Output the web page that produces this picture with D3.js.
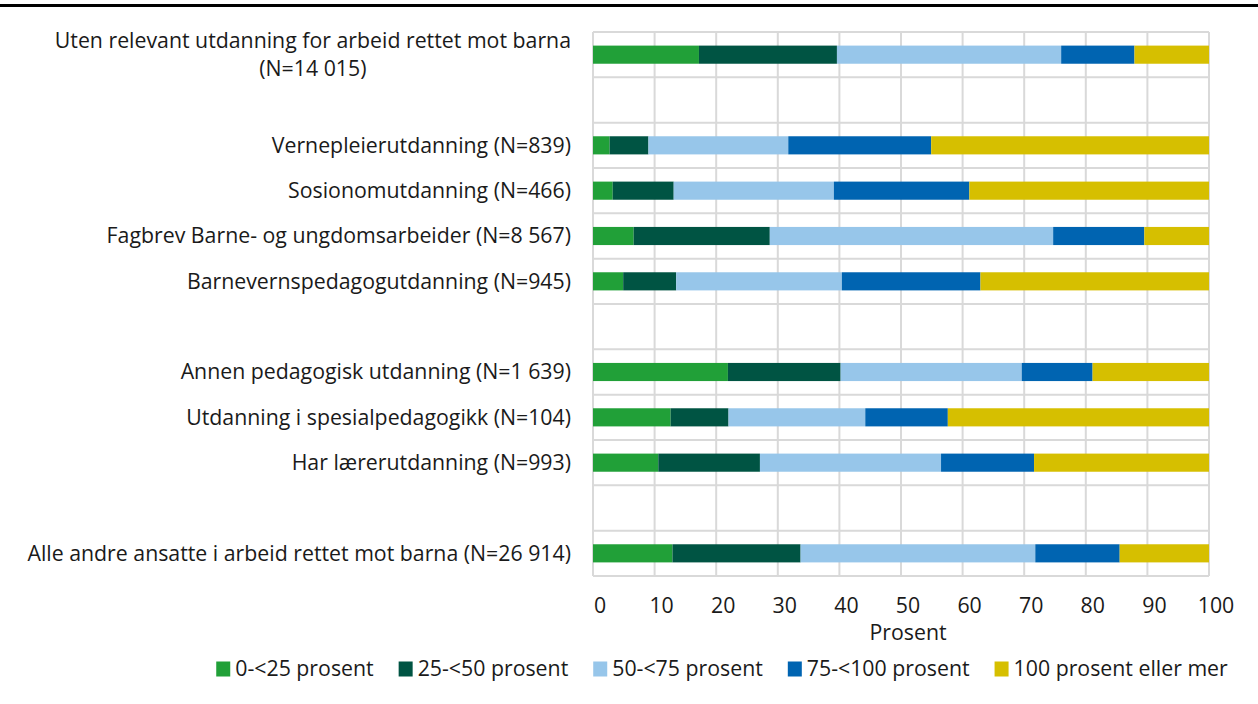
<!DOCTYPE html>
<html><head><meta charset="utf-8">
<script src="https://cdn.jsdelivr.net/npm/d3@7"></script>
<style>
html,body{margin:0;padding:0;background:#fff;}
text{font-family:"Open Sans",sans-serif;fill:#1a1a1a;}
</style></head>
<body>
<svg id="chart" width="1258" height="704"></svg>
<script>
const categories = [
  ["Uten relevant utdanning for arbeid rettet mot barna","(N=14 015)"],
  null,
  ["Vernepleierutdanning (N=839)"],
  ["Sosionomutdanning (N=466)"],
  ["Fagbrev Barne- og ungdomsarbeider (N=8 567)"],
  ["Barnevernspedagogutdanning (N=945)"],
  null,
  ["Annen pedagogisk utdanning (N=1 639)"],
  ["Utdanning i spesialpedagogikk (N=104)"],
  ["Har lærerutdanning (N=993)"],
  null,
  ["Alle andre ansatte i arbeid rettet mot barna (N=26 914)"]
];
const seriesNames = ["0-<25 prosent","25-<50 prosent","50-<75 prosent","75-<100 prosent","100 prosent eller mer"];
const seriesColors = ["#21a038","#005443","#97c6ea","#0064b1","#d6bf00"];
const s0 = [17.2, null, 2.7, 3.2, 6.6, 4.9, null, 21.9, 12.6, 10.6, null, 12.9];
const s1 = [22.4, null, 6.3, 9.9, 22.1, 8.6, null, 18.3, 9.4, 16.5, null, 20.8];
const s2 = [36.4, null, 22.7, 26.0, 46.0, 26.9, null, 29.4, 22.2, 29.4, null, 38.1];
const s3 = [11.9, null, 23.2, 22.0, 14.8, 22.5, null, 11.5, 13.4, 15.1, null, 13.7];
const s4 = [12.1, null, 45.1, 38.9, 10.5, 37.1, null, 18.9, 42.4, 28.4, null, 14.5];
const tickValues = [0,10,20,30,40,50,60,70,80,90,100];
const axisTitle = "Prosent";

(function(){
const svg = d3.select("#chart");
const W = 1258;
const FS = 21.3;
const pL = 593, pR = 1209, pT = 32, pB = 576;
const x = d3.scaleLinear().domain([0,100]).range([pL,pR]);
const idx = d3.range(categories.length);
const y = d3.scaleBand().domain(idx).range([pT,pB]).paddingInner(0.6).paddingOuter(0.3);
const step = y.step();

svg.append("rect").attr("x",0).attr("y",4).attr("width",W).attr("height",3).attr("fill","#000");

const grid = svg.append("g");
d3.range(categories.length+1).forEach(i=>{
  const yy = pT + i*step;
  grid.append("line").attr("x1",pL).attr("x2",pR).attr("y1",yy).attr("y2",yy)
    .attr("stroke","#d9d9d9").attr("stroke-width",2);
});
tickValues.forEach(v=>{
  grid.append("line").attr("x1",x(v)).attr("x2",x(v)).attr("y1",pT).attr("y2",pB)
    .attr("stroke","#d9d9d9").attr("stroke-width",2);
});

const table = idx.map(i=>({i, v:[s0[i],s1[i],s2[i],s3[i],s4[i]]})).filter(d=>d.v[0]!=null);
const stackData = table.map(d=>{const o={i:d.i}; seriesNames.forEach((n,k)=>o[n]=d.v[k]); return o;});
const stacked = d3.stack().keys(seriesNames)(stackData);
const bars = svg.append("g");
stacked.forEach((layer,k)=>{
  bars.selectAll(null).data(layer).enter().append("rect")
    .attr("x",d=>x(d[0])).attr("width",d=>x(d[1])-x(d[0]))
    .attr("y",d=>y(d.data.i)).attr("height",y.bandwidth())
    .attr("fill",seriesColors[k]);
});

const lab = svg.append("g");
categories.forEach((c,i)=>{
  if(!c) return;
  const cy = y(i)+y.bandwidth()/2;
  const lh = 28;
  if(c.length===1){
    lab.append("text").attr("x",571).attr("y",cy).attr("dy","0.35em")
      .attr("text-anchor","end").attr("font-size",FS).text(c[0]);
  } else {
    const t1 = lab.append("text").attr("x",571).attr("y",cy-lh/2).attr("dy","0.35em")
      .attr("text-anchor","end").attr("font-size",FS).text(c[0]);
    const bb = t1.node().getBBox();
    lab.append("text").attr("x",bb.x+bb.width/2).attr("y",cy+lh/2).attr("dy","0.35em")
      .attr("text-anchor","middle").attr("font-size",FS).text(c[1]);
  }
});

const ax = svg.append("g");
tickValues.forEach(v=>{
  ax.append("text").attr("x",x(v)+7).attr("y",606).attr("dy","0.35em")
    .attr("text-anchor","middle").attr("font-size",FS).text(v);
});
ax.append("text").attr("x",(pL+pR)/2+7).attr("y",633).attr("dy","0.35em")
  .attr("text-anchor","middle").attr("font-size",FS).text(axisTitle);

const lg = svg.append("g");
const items = [];
let cx = 0;
seriesNames.forEach((n,k)=>{
  const g = lg.append("g");
  g.append("rect").attr("x",0).attr("y",-7.5).attr("width",14).attr("height",15).attr("fill",seriesColors[k]);
  const t = g.append("text").attr("x",19).attr("y",0).attr("dy","0.35em").attr("font-size",FS).text(n);
  const w = 19 + t.node().getComputedTextLength();
  items.push({g, off:cx});
  cx += w + 25;
});
const totalW = cx - 25;
const startX = 722 - totalW/2;
items.forEach(o=>o.g.attr("transform",`translate(${startX + o.off},669)`));
})();
</script>
</body></html>
